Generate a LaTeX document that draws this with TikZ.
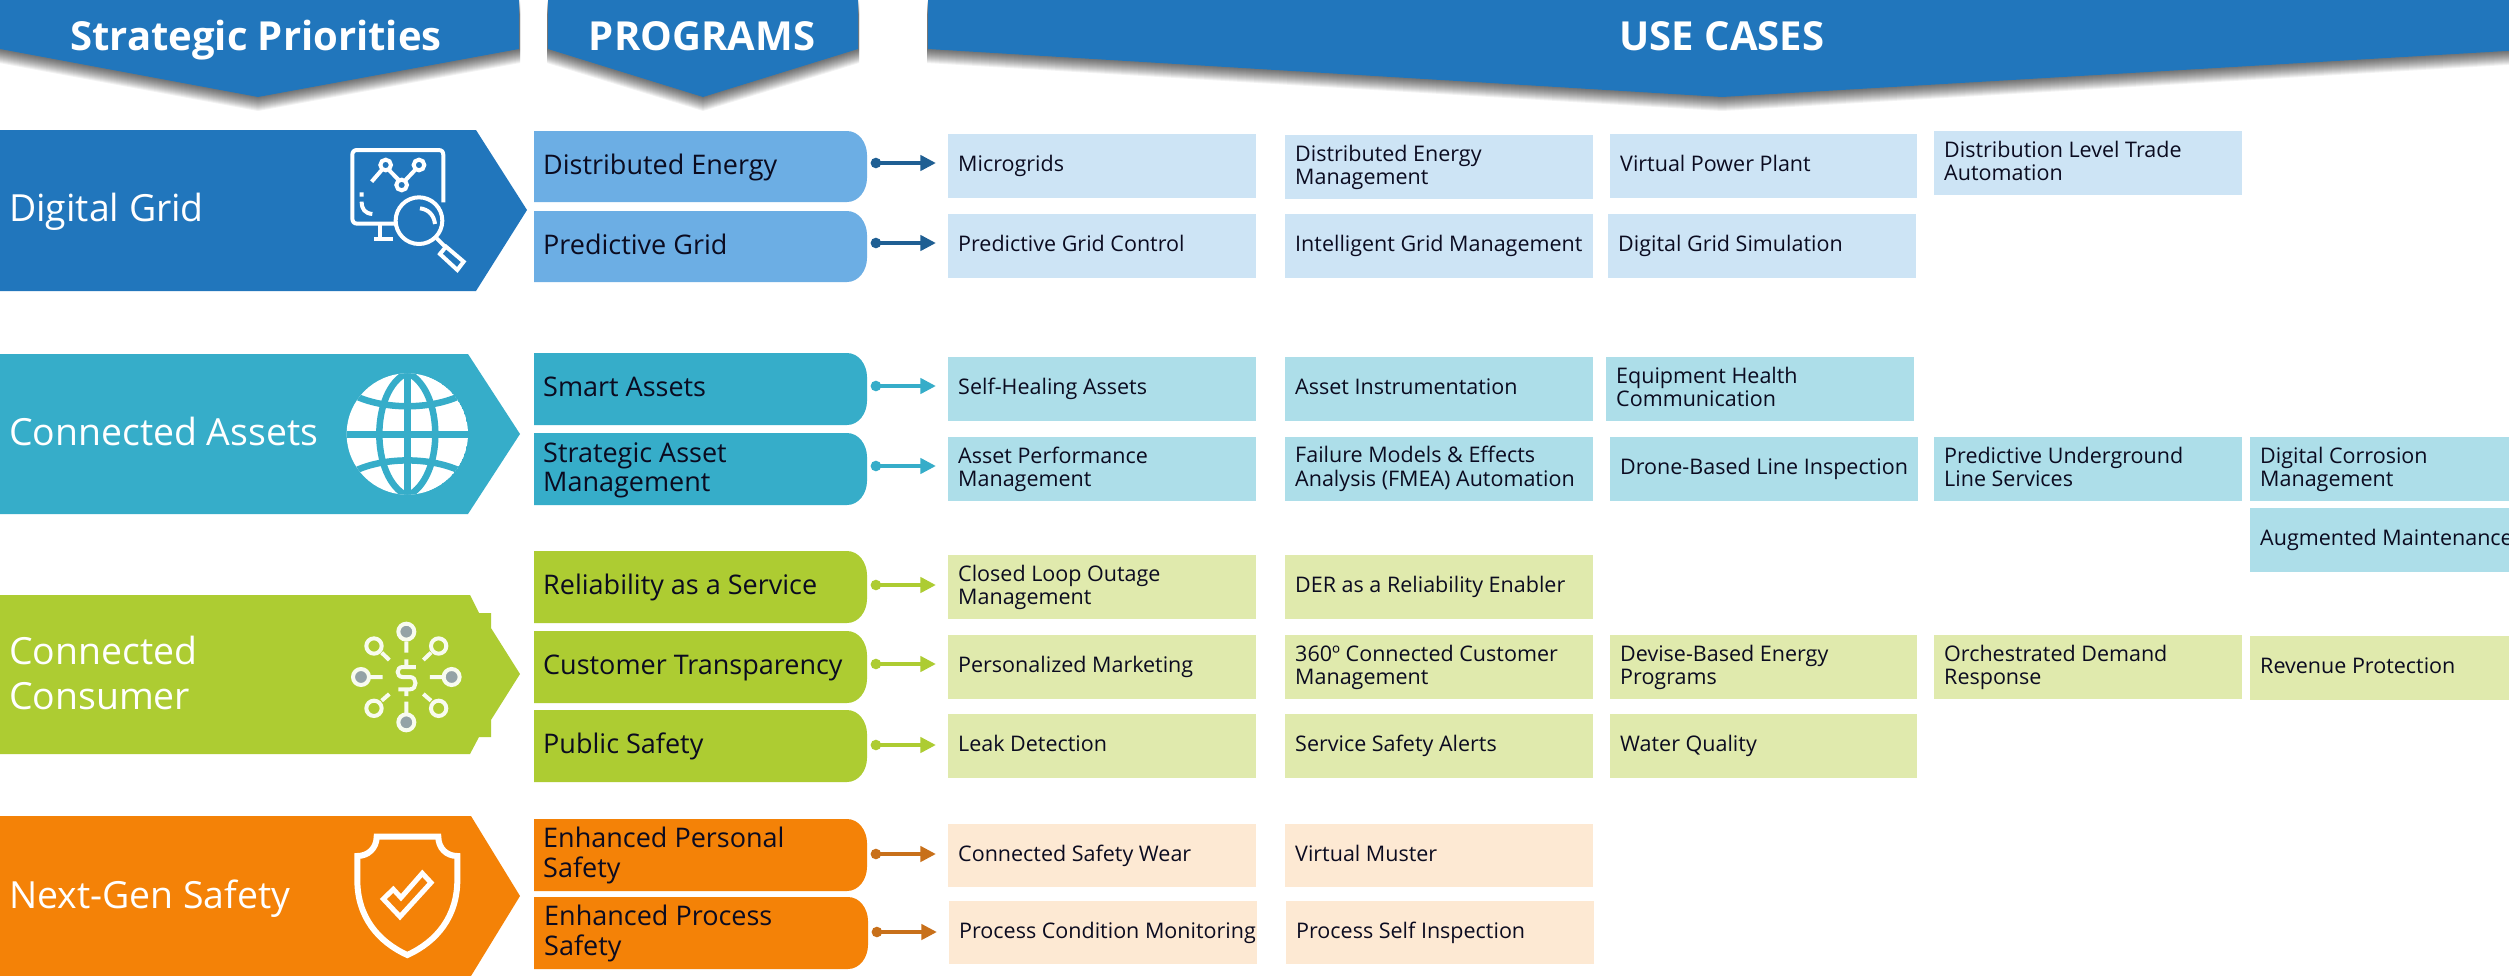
\documentclass[tikz,border=0pt]{standalone}
\usepackage{fontspec}
\setmainfont{Open Sans}
\usetikzlibrary{arrows.meta}
\definecolor{hdr}{HTML}{2176BC}
\definecolor{bluep}{HTML}{6CAEE4}
\definecolor{bluea}{HTML}{2176BC}
\definecolor{blueu}{HTML}{CDE4F5}
\definecolor{bluec}{HTML}{1F5F93}
\definecolor{teala}{HTML}{36ADC9}
\definecolor{tealu}{HTML}{ADDEE9}
\definecolor{greena}{HTML}{ADCC32}
\definecolor{greenu}{HTML}{E0EAAD}
\definecolor{orangea}{HTML}{F48207}
\definecolor{orangeu}{HTML}{FDE9D3}
\definecolor{orangec}{HTML}{C8701A}
\definecolor{ink}{HTML}{0B0B20}
\definecolor{dotgrey}{HTML}{94A3A6}
\tikzset{
  x=1pt,y=-1pt,
  hdrtext/.style={anchor=base,inner sep=0,text=white,font=\fontsize{40}{44}\selectfont\bfseries},
  priotext/.style={anchor=west,inner sep=0,align=left,text=white,font=\fontsize{37.4}{45}\selectfont},
  progtext/.style={anchor=west,inner sep=0,align=left,text=ink,font=\fontsize{27}{29}\selectfont},
  uctext/.style={anchor=west,inner sep=0,align=left,text=ink,font=\fontsize{21.5}{23}\selectfont},
  ucbox/.style={rectangle,draw=none,inner sep=0},
  progbox/.style={rectangle,draw=none,inner sep=0},
  conn/.style={line width=3.2pt,-{Triangle[length=15.5pt,width=15.5pt]}},
}
% name, x1,y1,x2,y2, colour, text
\newcommand{\ucase}[7]{%
  \node[ucbox,fill=#6,minimum width={#4-#2},minimum height={#5-#3}] (#1) at ({(#2+#4)/2},{(#3+#5)/2}) {};
  \node[uctext] (#1t) at ({#2+10},{(#3+#5)/2+1}) {\strut#7\strut};
}
% name, x2,y1,y2, colour, text x, text
\newcommand{\prog}[7]{%
  \node[progbox,minimum width={#2-534},minimum height={#4-#3}] (#1) at ({(#2+534)/2},{(#3+#4)/2}) {};
  \fill[#5] (534,#3) -- ({#2-20},#3) .. controls ({#2-8},#3) and (#2,{#3+12}) .. (#2,{#3+24})
     -- (#2,{#4-24}) .. controls (#2,{#4-12}) and ({#2-8},#4) .. ({#2-20},#4) -- (534,#4) -- cycle;
  \node[progtext] (#1t) at ({#6},{(#3+#4)/2+1.8}) {\strut#7\strut};
}
\newcommand{\conn}[4]{%
  \coordinate (#1s) at ([shift={(8.7,#3)}]#1.east);
  \fill[#4] (#1s) circle (5.3);
  \draw[conn,#4,shorten >=12pt] (#1s) -- (#1s -| #2.west);
}
\newcommand{\hdrshape}[4]{%
  \foreach \i in {1,...,14}{
    \fill[black,opacity=0.05] ({#1-1},\i) -- ({#2+1},\i) -- ({#2+1},{49+\i}) -- (#3,{#4+\i}) -- ({#1-1},{49+\i}) -- cycle;
  }
  \fill[hdr] (#1,-2) -- (#2,-2) -- (#2,49) -- (#3,#4) -- (#1,49) -- cycle;
}
\begin{document}
\begin{tikzpicture}
\clip (0,0) rectangle (2509,975);
\fill[white] (0,0) rectangle (2509,975);

% headers
\hdrshape{0}{519}{258}{97}
\hdrshape{548}{858}{703}{97}
\hdrshape{928}{2540}{1722}{97}
\node[hdrtext] (h1) at (256,50) {Strategic Priorities};
\node[hdrtext] (h2) at (702,50) {PROGRAMS};
\node[hdrtext] (h3) at (1722,50) {USE CASES};

% priority arrows
\fill[bluea] (0,130) -- (476,130) -- (527,210) -- (476,291) -- (0,291) -- cycle;
\fill[teala] (0,354) -- (468,354) -- (520,434) -- (468,514) -- (0,514) -- cycle;
\fill[greena] (0,595) -- (470,595) -- (479,613) -- (491,613) -- (491,628) -- (520,674) -- (491,720) -- (491,737) -- (479,737) -- (470,754) -- (0,754) -- cycle;
\fill[orangea] (0,816) -- (471,816) -- (520,896) -- (471,976) -- (0,976) -- cycle;
\node[priotext] (a1) at (9,212) {\strut Digital Grid\strut};
\node[priotext] (a2) at (9,436) {\strut Connected Assets\strut};
\node[priotext] (a3) at (9,678) {\strut Connected\\Consumer\strut};
\node[priotext] (a4) at (9,899) {\strut Next-Gen Safety\strut};

% digital grid icon
\begin{scope}[shift={(320,130)},x=0.3333pt,y=-0.3333pt]
  \draw[line width=4pt,white,line join=round]
    (370,217) -- (370,75) .. controls (370,65) and (365,60) .. (355,60) -- (112,60)
    .. controls (102,60) and (97,65) .. (97,75) -- (97,265) .. controls (97,275) and (102,281) .. (112,281) -- (225,281);
  \draw[line width=4pt,white] (180,281) -- (180,325) (163,327) -- (218,327);
  \draw[line width=4pt,white] (125,187) -- (125,200) (125,215) .. controls (125,238) and (135,250) .. (157,252);
  \draw[line width=4pt,white] (155,155) -- (187,118) (205,118) -- (238,152) (255,152) -- (287,118);
  \draw[line width=4pt,white] (197,105) circle (16) (245,165) circle (16) (297,105) circle (16);
  \draw[line width=4pt,white] (297,272) circle (70);
  \draw[line width=4pt,white] (300,235) .. controls (325,238) and (342,255) .. (345,282);
  \draw[line width=4pt,white] (350,325) -- (375,350);
  \draw[line width=4pt,white,line join=miter] (378,350) -- (431,395) -- (412,420) -- (360,372) -- cycle;
\end{scope}

% globe icon
\begin{scope}[shift={(330,360)},x=0.3333pt,y=-0.3333pt]
  \begin{scope}
    \clip (232,222) circle (182);
    \fill[white] (232,222) circle (182);
    \draw[teala,line width=7pt] (232,30) -- (232,415) (40,222) -- (425,222);
    \draw[teala,line width=6.5pt] (232,38) .. controls (120,90) and (120,355) .. (232,408);
    \draw[teala,line width=6.5pt] (232,38) .. controls (344,90) and (344,355) .. (232,408);
    \draw[teala,line width=6.5pt] (70,105) .. controls (160,150) and (304,150) .. (395,105);
    \draw[teala,line width=6.5pt] (70,335) .. controls (160,290) and (304,290) .. (395,335);
  \end{scope}
\end{scope}

% consumer icon
\begin{scope}[shift={(330,610)},x=0.3333pt,y=-0.3333pt]
  \foreach \p in {(229,65),(93,201),(365,201),(229,337)}{
    \fill[dotgrey] \p circle (24);
    \draw[line width=4pt,white!92!greena] \p circle (24);
  }
  \foreach \p in {(132,108),(326,108),(132,295),(326,295)}{
    \draw[line width=4pt,white!92!greena] \p circle (23);
  }
  \draw[line width=4pt,white!92!greena]
    (229,95) -- (229,128) (120,201) -- (158,201) (300,201) -- (338,201) (229,275) -- (229,310)
    (155,128) -- (178,150) (303,128) -- (280,150) (155,272) -- (178,252) (303,272) -- (280,252)
    (229,148) -- (229,165) (229,240) -- (229,258);
  \draw[line width=4pt,white!92!greena]
    (258,171) -- (218,171) .. controls (198,171) and (198,201) .. (218,201) -- (240,201)
    .. controls (262,201) and (262,238) .. (240,238) -- (205,238);
\end{scope}

% shield icon
\begin{scope}[shift={(330,800)},x=0.3333pt,y=-0.3333pt]
  \draw[line width=6pt,white,line join=miter]
    (140,110) -- (325,110) .. controls (325,145) and (350,168) .. (382,168)
    -- (382,240) .. controls (382,350) and (320,425) .. (232,465)
    .. controls (144,425) and (82,350) .. (82,240) -- (82,168)
    .. controls (114,168) and (140,145) .. (140,110) -- cycle;
  \draw[line width=5pt,white,line join=miter]
    (160,297) -- (190,268) -- (213,293) -- (277,220) -- (303,248) -- (210,350) -- cycle;
\end{scope}

% programs
\prog{p1}{867}{131}{202}{bluep}{543}{Distributed Energy}
\prog{p2}{867}{211}{282}{bluep}{543}{Predictive Grid}
\prog{p3}{867}{353}{425}{teala}{543}{Smart Assets}
\prog{p4}{867}{433}{505}{teala}{543}{Strategic Asset\\Management}
\prog{p5}{867}{551}{623}{greena}{543}{Reliability as a Service}
\prog{p6}{867}{631}{703}{greena}{543}{Customer Transparency}
\prog{p7}{867}{710}{782}{greena}{543}{Public Safety}
\prog{p8}{867}{819}{891}{orangea}{543}{Enhanced Personal\\Safety}
\prog{p9}{868}{897}{969}{orangea}{544}{Enhanced Process\\Safety}

% use cases
\ucase{u11}{948}{134}{1256}{198}{blueu}{Microgrids}
\ucase{u12}{1285}{135}{1593}{199}{blueu}{Distributed Energy\\Management}
\ucase{u13}{1610}{134}{1917}{198}{blueu}{Virtual Power Plant}
\ucase{u14}{1934}{131}{2242}{195}{blueu}{Distribution Level Trade\\Automation}
\ucase{u21}{948}{214}{1256}{278}{blueu}{Predictive Grid Control}
\ucase{u22}{1285}{214}{1593}{278}{blueu}{Intelligent Grid Management}
\ucase{u23}{1608}{214}{1916}{278}{blueu}{Digital Grid Simulation}
\ucase{u31}{948}{357}{1256}{421}{tealu}{Self-Healing Assets}
\ucase{u32}{1285}{357}{1593}{421}{tealu}{Asset Instrumentation}
\ucase{u33}{1606}{357}{1914}{421}{tealu}{Equipment Health\\Communication}
\ucase{u41}{948}{437}{1256}{501}{tealu}{Asset Performance\\Management}
\ucase{u42}{1285}{437}{1593}{501}{tealu}{Failure Models \& Effects\\Analysis (FMEA) Automation}
\ucase{u43}{1610}{437}{1918}{501}{tealu}{Drone-Based Line Inspection}
\ucase{u44}{1934}{437}{2242}{501}{tealu}{Predictive Underground\\Line Services}
\ucase{u45}{2250}{437}{2558}{501}{tealu}{Digital Corrosion\\Management}
\ucase{u46}{2250}{508}{2558}{572}{tealu}{Augmented Maintenance}
\ucase{u51}{948}{555}{1256}{619}{greenu}{Closed Loop Outage\\Management}
\ucase{u52}{1285}{555}{1593}{619}{greenu}{DER as a Reliability Enabler}
\ucase{u61}{948}{635}{1256}{699}{greenu}{Personalized Marketing}
\ucase{u62}{1285}{635}{1593}{699}{greenu}{360º Connected Customer\\Management}
\ucase{u63}{1610}{635}{1917}{699}{greenu}{Devise-Based Energy\\Programs}
\ucase{u64}{1934}{635}{2242}{699}{greenu}{Orchestrated Demand\\Response}
\ucase{u65}{2250}{636}{2558}{700}{greenu}{Revenue Protection}
\ucase{u71}{948}{714}{1256}{778}{greenu}{Leak Detection}
\ucase{u72}{1285}{714}{1593}{778}{greenu}{Service Safety Alerts}
\ucase{u73}{1610}{714}{1917}{778}{greenu}{Water Quality}
\ucase{u81}{948}{824}{1256}{887}{orangeu}{Connected Safety Wear}
\ucase{u82}{1285}{824}{1593}{887}{orangeu}{Virtual Muster}
\ucase{u91}{949}{901}{1257}{964}{orangeu}{Process Condition Monitoring}
\ucase{u92}{1286}{901}{1594}{964}{orangeu}{Process Self Inspection}

% connectors
\conn{p1}{u11}{-3.5}{bluec}
\conn{p2}{u21}{-3.5}{bluec}
\conn{p3}{u31}{-3}{teala}
\conn{p4}{u41}{-3}{teala}
\conn{p5}{u51}{-2}{greena}
\conn{p6}{u61}{-3}{greena}
\conn{p7}{u71}{-1}{greena}
\conn{p8}{u81}{-1}{orangec}
\conn{p9}{u91}{-1}{orangec}
\end{tikzpicture}
\end{document}
